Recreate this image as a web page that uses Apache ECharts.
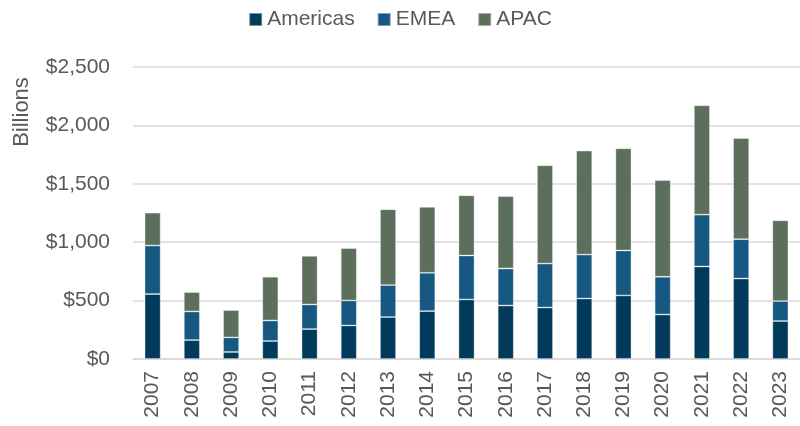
<!DOCTYPE html>
<html>
<head>
<meta charset="utf-8">
<script src="https://cdn.jsdelivr.net/npm/echarts@6/dist/echarts.min.js"></script>
<style>
  html, body { margin: 0; padding: 0; background: #fff; }
  #chart { width: 800px; height: 426px; }
</style>
</head>
<body>
<div id="chart"></div>
<script>
// data (USD billions)
const years = ['2007', '2008', '2009', '2010', '2011', '2012', '2013', '2014', '2015',
  '2016', '2017', '2018', '2019', '2020', '2021', '2022', '2023'];
const americas = [556, 162, 60, 154, 256, 287, 359, 410, 510, 458, 441, 518, 544, 381, 792, 689, 325];
const emea = [415, 245, 125, 176, 211, 214, 274, 328, 376, 317, 376, 376, 385, 323, 444, 337, 171];
const apac = [282, 166, 234, 374, 416, 448, 649, 564, 516, 619, 842, 890, 875, 827, 936, 866, 692];

const font = 'Liberation Sans';
const grey = '#595959';

const chart = echarts.init(document.getElementById('chart'));

function bar(name, data, color) {
  return {
    name: name,
    type: 'bar',
    stack: 'total',
    barWidth: 16,
    data: data,
    itemStyle: { color: color, borderColor: 'rgba(255,255,255,0.45)', borderWidth: 0.8 }
  };
}

chart.setOption({
  animation: false,
  legend: {
    top: 4,
    left: 'center',
    itemWidth: 13,
    itemHeight: 13,
    itemGap: 22,
    icon: 'rect',
    textStyle: { fontFamily: font, fontSize: 21, color: grey }
  },
  grid: { left: 133, top: 67, width: 672, height: 292 },
  graphic: [{
    type: 'text',
    x: 22,
    y: 112,
    rotation: Math.PI / 2,
    style: {
      text: 'Billions', font: '22px ' + font, fill: grey,
      align: 'center', verticalAlign: 'middle'
    }
  }],
  xAxis: {
    type: 'category',
    data: years,
    axisTick: { show: false },
    axisLine: { lineStyle: { color: '#d9d9d9', width: 1.5 } },
    axisLabel: { rotate: 90, margin: 12, fontFamily: font, fontSize: 21, color: grey }
  },
  yAxis: {
    type: 'value',
    min: 0,
    max: 2500,
    interval: 500,
    axisLine: { show: false },
    axisTick: { show: false },
    splitLine: { lineStyle: { color: '#d9d9d9', width: 1.5 } },
    axisLabel: {
      margin: 23,
      fontFamily: font,
      fontSize: 21,
      color: grey,
      formatter: v => '$' + v.toLocaleString('en-US')
    }
  },
  series: [
    bar('Americas', americas, '#023a5c'),
    bar('EMEA', emea, '#175882'),
    bar('APAC', apac, '#5c6f5d')
  ]
});
</script>
</body>
</html>
